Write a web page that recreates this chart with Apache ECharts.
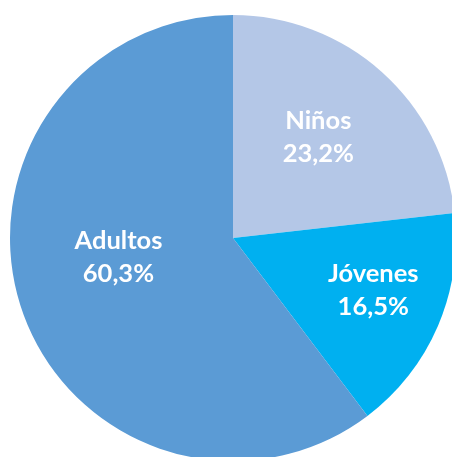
<!DOCTYPE html>
<html>
<head>
<meta charset="utf-8">
<script src="https://cdn.jsdelivr.net/npm/echarts@6/dist/echarts.min.js"></script>
<style>html,body{margin:0;padding:0;background:#fff}#c{width:452px;height:457px}</style>
</head>
<body>
<div id="c"></div>
<script>
const categories = ['Niños', 'Jóvenes', 'Adultos'];
const values = [23.2, 16.5, 60.3];
const valueLabels = ['23,2%', '16,5%', '60,3%'];
const colors = ['#B4C7E7', '#00B0F0', '#5B9BD5'];
const labelShift = [[9, -15], [35, 7], [-6, -17]];

const chart = echarts.init(document.getElementById('c'), null, {renderer: 'canvas'});
chart.setOption({
  backgroundColor: '#ffffff',
  animation: false,
  series: [{
    type: 'pie',
    center: [233, 238],
    radius: [0, 223],
    startAngle: 90,
    clockwise: true,
    data: categories.map((c, i) => ({name: c, value: values[i], itemStyle: {color: colors[i]}})),
    itemStyle: {borderWidth: 0},
    label: {
      show: true,
      position: 'inside',
      formatter: p => p.name + '\n' + valueLabels[p.dataIndex],
      color: '#ffffff',
      fontFamily: 'Lato',
      fontWeight: 'bold',
      fontSize: 25.5,
      lineHeight: 33,
      align: 'center'
    },
    labelLayout: p => ({dx: labelShift[p.dataIndex][0], dy: labelShift[p.dataIndex][1]}),
    emphasis: {disabled: true}
  }]
});
</script>
</body>
</html>
